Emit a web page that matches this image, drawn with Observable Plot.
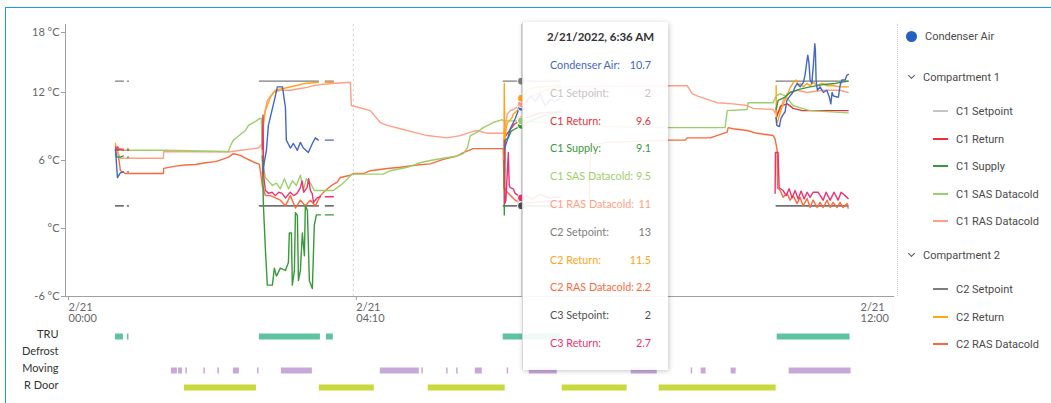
<!DOCTYPE html>
<html><head><meta charset="utf-8">
<script src="https://cdn.jsdelivr.net/npm/d3@7"></script>
<script src="https://cdn.jsdelivr.net/npm/@observablehq/plot@0.6"></script>
<style>
body{margin:0;background:#fff;}
#wrap{position:relative;width:1051px;height:403px;overflow:hidden;font-family:Lato,"Open Sans",sans-serif;background:#fff;}
#frame{position:absolute;left:5px;top:7px;width:1100px;height:500px;border:1px solid #1a9de0;box-sizing:border-box;}
#chart{position:absolute;left:0;top:0;}
#tracks{position:absolute;left:0;top:322px;}
#sep{position:absolute;left:897px;top:24px;height:272px;border-left:1px dotted #cfcfcf;}
#legend{position:absolute;left:0;top:0;font-family:Roboto,sans-serif;font-size:11px;color:#4a4a4a;}
.lg{position:absolute;white-space:nowrap;line-height:14px;}
#tip{position:absolute;left:522px;top:22px;width:146px;height:348px;background:rgba(255,255,255,0.9);box-shadow:1px 1px 5px rgba(0,0,0,0.22);border-left:1px solid #d6d6d6;box-sizing:border-box;}
.tr{position:absolute;left:27px;right:17px;display:flex;justify-content:space-between;font-size:10.8px;line-height:16px;white-space:nowrap;}
.tt{position:absolute;left:0;right:0;top:8px;text-align:center;padding-left:10px;font-weight:bold;font-size:11.5px;color:#333;}
</style></head>
<body>
<div id="wrap">
  <div id="frame"></div>
  <div id="tracks"></div>
  <div id="chart"></div>
  <div id="sep"></div>
  <div id="legend"></div>
  <div id="tip"></div>
</div>
<script>
// ---- DATA (minutes after 2/21/2022 00:00, °C; null = no reading) ----
const condenserAir = [
 [43.4,7.0],[45.1,4.5],[47.7,4.9],[50.3,5.0],[51,null],
 [53.8,5.0],[54.7,5.0],[60,null],
 [171.0,4.9],[174.5,6.9],[176.2,9.1],[178.8,10.2],[181.4,11.3],[184.0,12.5],[188.4,12.5],[191.0,10.7],[191.8,7.8],[195.3,7.1],[197.9,7.5],[201.4,6.9],[204.0,7.6],[206.6,7.1],[210.9,6.7],[214.4,7.5],[217.0,8.0],[219.6,7.8],[222,null],
 [225.7,7.8],[232.6,7.8],[240,null],
 [381.1,7.0],[383.7,7.8],[386.3,8.8],[390.6,9.7],[393.2,10.4],[396,10.7],[399.3,11.0],[403.7,11.7],[408,11.2],[412.3,11.9],[416.7,10.8],[421,11.4],[425.4,11.2],[429.7,11.5],[440,null],
 [617.2,9.8],[617.8,9.1],[620.1,9.0],[621.3,9.7],[623.0,10.0],[625.0,10.3],[626.5,11.3],[629.3,11.7],[631.7,12.0],[633.7,12.5],[635.7,12.8],[638.0,12.5],[640.9,12.9],[642.4,13.6],[643.8,14.7],[644.7,15.3],[645.8,14.5],[646.7,13.1],[648.2,12.8],[649.6,14.5],[650.8,16.3],[651.3,15.7],[651.9,13.1],[653.0,12.2],[655.4,12.5],[658.2,12.0],[661.2,12.2],[663.4,11.6],[664.7,11.0],[665.8,12.0],[666.9,11.7],[669.9,11.6],[671.3,11.6],[672.7,12.6],[674.2,13.1],[677.1,13.1],[678.5,13.5],[679.9,13.6]
];
const c1Setpoint = [[43.4,2],[50.3,2],[51,null],[53.8,2],[54.7,2],[60,null],[168.4,2],[219.6,2],[222,null],[225.7,2],[232.6,2],[240,null],[380.2,2],[429.7,2],[440,null],[617.2,2],[679.7,2]];
const c2Setpoint = [[43.4,13],[50.3,13],[51,null],[53.8,13],[54.7,13],[60,null],[168.4,13],[219.6,13],[222,null],[225.7,13],[232.6,13],[240,null],[380.2,13],[429.7,13],[440,null],[617.2,13],[679.7,13]];
const c3Setpoint = [[43.4,2],[50.3,2],[51,null],[53.8,2],[54.7,2],[60,null],[168.4,2],[219.6,2],[222,null],[225.7,2],[232.6,2],[240,null],[380.2,2],[429.7,2],[440,null],[617.2,2],[679.7,2]];
const c2Return = [
 [43.4,7.5],[44.3,6.9],[46.0,7.0],[50.3,7.0],[51,null],
 [171.0,3.6],[171.9,9.1],[173.6,10.4],[178.0,11.6],[182.3,12.2],[191.0,12.4],[199.7,12.6],[208.3,12.8],[219.6,12.9],[222,null],
 [225.7,12.9],[232.6,12.9],[240,null],
 [380.6,3.6],[381.1,12.8],[381.5,7.5],[382.5,8.7],[383.7,9.3],[385.4,9.5],[388,9.8],[388.9,10.1],[392.4,10.4],[394.9,11.3],[396,11.5],[399.3,11.9],[401.9,12.2],[403.7,12.35],[412,12.5],[429.7,12.6],[440,null],
 [617.2,12.6],[617.4,9.3],[618.3,9.4],[620.1,10.0],[622.1,10.6],[623.5,11.0],[626.5,11.7],[629.3,12.4],[632.2,12.9],[634.5,13.1],[636.5,12.6],[638,12.8],[640.9,12.5],[643.8,12.8],[646.7,12.6],[649.6,12.9],[652.5,12.6],[656.8,12.8],[661.2,12.6],[666.9,12.6],[672.7,12.5],[679.9,12.5]
];
const c1Return = [
 [43.4,6.9],[45.1,7.2],[47.7,6.9],[50.3,7.0],[51,null],[53.8,7.0],[54.7,7.0],[60,null],
 [381.1,8.0],[384.6,8.5],[389.8,9.2],[396,9.6],[403.7,9.9],[412,10.2],[429.7,10.3],[440,null],
 [617.2,9.7],[621,10.8],[627,11.0],[632,10.6],[640,10.4],[679.7,10.4]
];
const c3Return = [
 [43.4,7.2],[45.1,6.9],[47.7,7.0],[50.3,6.9],[51,null],[53.8,6.9],[54.7,6.9],[60,null],
 [171.0,7.0],[171.5,10.0],[172.1,4.7],[173.6,3.35],[176.5,3.1],[179.4,3.2],[182.3,2.9],[185.2,3.2],[188.1,3.1],[191,2.7],[195.3,3.2],[198.2,2.9],[201.1,3.1],[204,3.6],[205.5,4.2],[206.9,3.2],[209.8,3.6],[211.2,4.4],[212.7,3.35],[214.2,3.1],[215.5,2.3],[218.5,2.7],[221.4,2.8],[223,null],
 [225.7,2.8],[232.6,2.8],[240,null],
 [381.1,7.8],[381.5,2.2],[382.5,2.5],[384.6,6.7],[385.4,3.8],[386.3,3.6],[388.9,3.5],[390.6,3.1],[393.2,2.9],[396,2.7],[400,2.9],[405,2.6],[412,3.0],[420,2.7],[429.7,2.8],[440,null],
 [616.3,3.1],[616.6,6.7],[618.9,6.7],[619.8,3.6],[623.3,3.35],[625.9,2.9],[628.5,3.5],[631.1,2.7],[633.7,3.35],[636.3,2.6],[638.9,3.3],[641.5,2.6],[644.1,3.2],[646.7,2.75],[649.3,3.2],[653.6,3.2],[658.0,2.5],[660.6,3.2],[664.1,2.5],[667.5,3.2],[671.0,2.5],[673.6,3.2],[677.1,2.9],[679.7,2.65]
];
const c1Supply = [
 [43.4,7.0],[44.3,6.3],[47.7,6.3],[50.3,6.4],[51,null],[53.8,6.3],[54.7,6.3],[60,null],
 [171.0,6.4],[171.9,2.0],[173.6,-1.8],[175.3,-5.0],[179.7,-5.0],[181.4,-3.5],[183.2,-4.2],[186.6,-3.5],[191.0,-3.7],[193.6,-3.0],[194.4,-0.4],[196.2,-0.4],[197.0,-5.0],[198.8,-3.7],[199.7,1.4],[201.4,1.15],[202.3,-4.6],[204.0,-3.7],[205.7,-0.4],[207.5,-2.4],[208.3,2.0],[210.1,1.6],[211.8,-4.6],[214.4,-5.3],[216.1,0.3],[217.9,1.2],[221.4,1.2],[223,null],
 [225.7,1.2],[232.6,1.2],[240,null],
 [380.8,6.0],[381.1,1.2],[381.9,7.8],[384.6,8.0],[387.2,8.6],[390.6,8.8],[396,9.1],[403.7,9.5],[416.7,10.0],[429.7,10.3],[440,null],
 [617.2,10.5],[618.9,11.3],[625,11.6],[629.3,12.0],[638,12.3],[646.7,12.5],[658,12.7],[668.4,12.8],[679.7,13.0]
];
const c1SasDatacold = [
 [45.1,6.9],[85.1,6.9],[141.5,6.8],[143.2,7.3],[145.8,7.8],[148.4,8.0],[151.9,8.3],[156.3,8.65],[158.9,9.1],[162.3,9.3],[165.8,9.5],[168.4,9.7],[170.1,9.7],[171.0,6.0],[173.6,4.5],[176.2,4.2],[179.7,3.8],[183.2,4.0],[186.6,3.5],[190.1,4.4],[193.6,3.5],[197.1,4.2],[200.5,3.8],[204.0,4.7],[206.6,3.35],[209.2,4.4],[212.7,4.0],[216.1,3.35],[219.6,3.35],[232.6,3.35],[238.7,3.8],[243.1,4.2],[249.1,4.8],[276.0,4.8],[282.1,5.1],[296.9,5.4],[308.2,5.8],[316.8,6.0],[328.1,6.2],[340.3,6.4],[345.5,6.6],[349.0,7.1],[351.6,8.2],[357.6,8.5],[362.8,8.9],[371.5,9.35],[379.3,9.6],[380.2,9.5],[396,9.5],[430,9.2],[470,9.0],[523.4,8.9],[572.9,8.9],[574.7,10.4],[592.0,10.5],[592.9,11.1],[614.6,11.1],[617.2,11.7],[620.7,11.9],[625.0,11.7],[626.7,11.5],[631.9,10.85],[639.8,10.6],[646.7,10.4],[679.7,10.2]
];
const c1RasDatacold = [
 [44.3,7.0],[47.7,6.2],[85.1,6.2],[85.2,6.8],[141.5,6.75],[151.9,6.9],[160.6,7.0],[167.5,7.1],[169.3,7.3],[171.0,7.5],[171.9,9.7],[175.3,11.3],[180.6,12.0],[186.6,12.2],[195.3,12.2],[204.0,12.35],[210.1,12.45],[215.3,12.6],[221.4,12.7],[232.6,12.8],[247.4,12.9],[248.3,10.85],[264.8,10.4],[273.4,9.35],[279.5,9.1],[290.8,8.8],[302.1,8.5],[314.2,8.2],[331.6,8.0],[342.9,8.2],[351.6,8.5],[357.6,8.65],[366.3,8.4],[380.2,8.4],[381.1,8.6],[383.7,10.1],[386.3,10.4],[388.9,10.5],[392.4,10.7],[396,11.0],[403.7,11.6],[416.7,12.2],[430,12.5],[525.2,12.6],[539.9,12.6],[544.3,11.9],[548.6,11.7],[559.9,11.3],[566.0,11.1],[579.9,11.0],[592.0,10.85],[597.2,10.6],[614.6,10.5],[616.3,10.2],[617.2,10.7],[618.1,10.1],[620.7,10.4],[623.3,11.3],[626.7,11.9],[629.3,12.0],[635.4,12.2],[644.1,12.0],[658.0,12.2],[672.7,12.2],[679.7,12.0]
];
const c2RasDatacold = [
 [45.1,7.0],[47.7,5.1],[52.1,4.85],[85.1,4.85],[85.2,5.3],[95.5,5.5],[104.2,5.6],[112.9,5.65],[121.5,5.8],[130.2,5.9],[136.3,6.1],[141.5,6.3],[145.8,6.6],[151.9,6.45],[156.3,6.2],[160.6,6.0],[164.9,5.8],[168.4,5.65],[171.0,3.8],[173.6,2.9],[178.0,2.9],[186.6,2.5],[191.0,2.0],[195.3,2.9],[199.7,1.8],[204.0,2.5],[208.3,2.0],[212.7,2.5],[217.0,2.0],[221.4,2.9],[225.7,3.35],[230.0,3.7],[232.6,3.9],[236.0,4.1],[238.7,4.5],[247.4,4.7],[250.0,4.85],[258.7,4.85],[264.8,5.1],[279.5,5.3],[290.8,5.4],[305.6,5.6],[316.8,5.7],[328.1,6.1],[340.3,6.4],[345.5,6.7],[354.2,7.05],[380.2,7.05],[380.8,3.6],[384.6,3.1],[390.6,2.5],[396,2.2],[420,2.4],[455,2.5],[456,7.3],[470,7.6],[523.4,7.8],[538.2,7.8],[539.9,8.0],[559.9,8.0],[574.7,8.5],[575.5,8.9],[579.9,8.8],[592.0,8.65],[600.7,8.4],[614.6,8.2],[616.3,7.9],[618.1,6.9],[618.5,3.6],[620.7,3.35],[623.3,2.75],[626.7,3.1],[629.3,2.5],[631.9,2.9],[635.4,2.2],[638.0,2.75],[640.6,2.0],[644.1,2.65],[646.7,1.85],[649.3,2.5],[652.8,1.85],[655.4,2.3],[658.0,1.85],[661.5,2.5],[664.1,1.85],[666.7,2.3],[670.1,1.85],[672.7,2.3],[675.3,1.85],[678.8,2.2],[679.7,1.8]
];

// status tracks: [start, end] minutes
const trackNames = ["TRU","Defrost","Moving","R Door"];
const truOn = [[43.4,50.3],[53.8,55.1],[168.4,221.4],[226.6,232.6],[380.2,429.7],[618.1,681.4]];
const defrostOn = [];
const movingOn = [[92.0,97.2],[98.1,101.6],[104.6,105.9],[120.2,121.5],[132.3,133.7],[145.8,151.0],[166.8,168.1],[187.5,214.4],[273.4,307.3],[309.5,310.8],[331.0,332.3],[339.7,341.0],[355.9,362.0],[383.6,384.9],[402.8,427.1],[491.3,513.9],[543.4,544.7],[552.1,556.4],[578.1,582.5],[628.5,682.3]];
const rDoorOpen = [[103.3,165.8],[220.5,268.2],[315.1,381.9],[431.4,487.8],[515.6,617.2]];

// axis
const yTicks = [-6, 0, 6, 12, 18];
const xTickMinutes = [0, 250, 720];

// tooltip at 6:36
const tipMinute = 396;
const tipLabels = ["Condenser Air","C1 Setpoint","C1 Return","C1 Supply","C1 SAS Datacold","C1 RAS Datacold","C2 Setpoint","C2 Return","C2 RAS Datacold","C3 Setpoint","C3 Return"];
const tipValues = [10.7, 2, 9.6, 9.1, 9.5, 11, 13, 11.5, 2.2, 2, 2.7];

// ---- STYLES ----
const colors = {
 "Condenser Air":"#4467c4",
 "C1 Setpoint":"#c4c4c4",
 "C1 Return":"#e5333b",
 "C1 Supply":"#3a983a",
 "C1 SAS Datacold":"#9ccf6a",
 "C1 RAS Datacold":"#ff9f85",
 "C2 Setpoint":"#7d7d7d",
 "C2 Return":"#ffa41b",
 "C2 RAS Datacold":"#fb6a3c",
 "C3 Setpoint":"#505050",
 "C3 Return":"#ea3370"
};
const trackColors = {"TRU":"#5ec3a0","Defrost":"#8fb4e0","Moving":"#c7a9d9","R Door":"#c9d83c"};

const series = {
 "Condenser Air": condenserAir, "C1 Setpoint": c1Setpoint, "C1 Return": c1Return, "C1 Supply": c1Supply,
 "C1 SAS Datacold": c1SasDatacold, "C1 RAS Datacold": c1RasDatacold, "C2 Setpoint": c2Setpoint,
 "C2 Return": c2Return, "C2 RAS Datacold": c2RasDatacold, "C3 Setpoint": c3Setpoint, "C3 Return": c3Return
};
const drawOrder = ["C1 Setpoint","C3 Setpoint","C2 Setpoint","C2 RAS Datacold","C1 RAS Datacold","C1 Return","C1 SAS Datacold","C2 Return","C1 Supply","C3 Return","Condenser Air"];
const dotOrder = ["C1 Supply","C1 Return","Condenser Air","C1 RAS Datacold","C2 Return","C2 Setpoint","C1 SAS Datacold","C2 RAS Datacold","C3 Return","C1 Setpoint","C3 Setpoint"];

const T0 = Date.UTC(2022, 1, 21);
const toTime = m => new Date(T0 + m * 60000);
const xDomain = [toTime(0), toTime(720)];
const fmtTick = d3.utcFormat("%-m/%d\n%H:%M");

const chart = Plot.plot({
  width: 900, height: 332,
  marginLeft: 65, marginRight: 6, marginTop: 24, marginBottom: 36,
  style: {fontFamily: "Lato, sans-serif", fontSize: "11px", background: "transparent", color: "#666", overflow: "visible"},
  x: {type: "utc", domain: xDomain},
  y: {domain: [-6, 18]},
  marks: [
    Plot.ruleX([toTime(xTickMinutes[1])], {y1: -6, y2: 18, stroke: "#cfcfcf", strokeDasharray: "2,3"}),
    Plot.ruleX([toTime(tipMinute)], {y1: -6, y2: 18, stroke: "#d4d4d4"}),
    ...drawOrder.map(name => Plot.line(series[name], {x: d => toTime(d[0]), y: d => d[1], stroke: colors[name], strokeWidth: 1.4})),
    Plot.dot(dotOrder, {x: () => toTime(tipMinute), y: n => tipValues[tipLabels.indexOf(n)], fill: n => colors[n], r: 4, stroke: "white", strokeWidth: 1}),
    Plot.ruleY([-6], {stroke: "#a0a0a0"}),
    Plot.ruleX([toTime(0)], {y1: -6, y2: 18, stroke: "#a0a0a0"}),
    Plot.axisY(yTicks.slice(0, 4), {tickSize: 4, tickPadding: 2, stroke: "#a0a0a0", fill: "#666", label: null, tickFormat: d => d === 0 ? "°C" : `${d} °C`}),
    Plot.axisY(yTicks.slice(4), {tickSize: 4, tickPadding: 2, dy: 8, stroke: "#a0a0a0", fill: "#666", label: null, tickFormat: d => `${d} °C`}),
    Plot.axisX(xTickMinutes.slice(0, 2).map(toTime), {tickSize: 4, tickPadding: 2, stroke: "#a0a0a0", fill: "#666", textAnchor: "start", dx: 3, label: null, lineHeight: 1.05, tickFormat: fmtTick}),
    Plot.axisX(xTickMinutes.slice(2).map(toTime), {tickSize: 0, tickPadding: 6, fill: "#666", textAnchor: "start", dx: -34, label: null, lineHeight: 1.05, tickFormat: fmtTick})
  ]
});
document.getElementById("chart").append(chart);

const trackData = (rows, name) => rows.map(r => ({name, a: toTime(r[0]), b: toTime(r[1])}));
const tracks = Plot.plot({
  width: 900, height: 81,
  marginLeft: 65, marginRight: 6, marginTop: 6, marginBottom: 7,
  style: {fontFamily: "Lato, sans-serif", fontSize: "11px", background: "transparent"},
  x: {type: "utc", domain: xDomain, axis: null},
  y: {type: "band", domain: trackNames, padding: 0},
  marks: [
    ...[[truOn,"TRU"],[defrostOn,"Defrost"],[movingOn,"Moving"],[rDoorOpen,"R Door"]].map(([rows, name]) =>
      Plot.barX(trackData(rows, name), {x1: "a", x2: "b", y: "name", fill: trackColors[name], insetTop: 5.5, insetBottom: 5.5})),
    Plot.axisY({tickSize: 0, tickPadding: 7, fill: "#333", dy: -3, label: null})
  ]
});
document.getElementById("tracks").append(tracks);

// ---- LEGEND ----
const legendEntries = [
  {type: "dot", label: "Condenser Air"},
  {type: "group", label: "Compartment 1"},
  {type: "line", label: "C1 Setpoint"},
  {type: "line", label: "C1 Return"},
  {type: "line", label: "C1 Supply"},
  {type: "line", label: "C1 SAS Datacold"},
  {type: "line", label: "C1 RAS Datacold"},
  {type: "group", label: "Compartment 2"},
  {type: "line", label: "C2 Setpoint"},
  {type: "line", label: "C2 Return"},
  {type: "line", label: "C2 RAS Datacold"}
];
const legend = document.getElementById("legend");
let ly = 37, prev = null;
legendEntries.forEach(e => {
  if (prev) ly += prev === "dot" ? 41 : (prev === "group" || e.type === "group") ? 34 : 27.5;
  prev = e.type;
  const row = document.createElement("div");
  row.className = "lg";
  row.style.top = (ly - 7) + "px";
  if (e.type === "dot") {
    row.style.left = "906px";
    row.innerHTML = `<span style="display:inline-block;width:11px;height:11px;border-radius:50%;background:#2360c0;vertical-align:-2px;margin-right:8px"></span>${e.label}`;
  } else if (e.type === "group") {
    row.style.left = "909px";
    row.innerHTML = `<span style="display:inline-block;width:4px;height:4px;border-right:1.5px solid #555;border-bottom:1.5px solid #555;transform:rotate(45deg);vertical-align:3px;margin-right:9px"></span>${e.label}`;
  } else {
    row.style.left = "933px";
    row.innerHTML = `<span style="display:inline-block;width:15px;height:2px;background:${colors[e.label]};vertical-align:3px;margin-right:8px"></span>${e.label}`;
  }
  legend.append(row);
});

// ---- TOOLTIP ----
const tip = document.getElementById("tip");
const title = document.createElement("div");
title.className = "tt";
title.textContent = d3.utcFormat("%-m/%-d/%Y, %-I:%M %p")(toTime(tipMinute));
tip.append(title);
tipLabels.forEach((lab, i) => {
  const r = document.createElement("div");
  r.className = "tr";
  r.style.top = (43 + i * 27.8 - 8) + "px";
  r.style.color = colors[lab];
  r.innerHTML = `<span>${lab}:</span><span>${tipValues[i]}</span>`;
  tip.append(r);
});
</script>
</body></html>
